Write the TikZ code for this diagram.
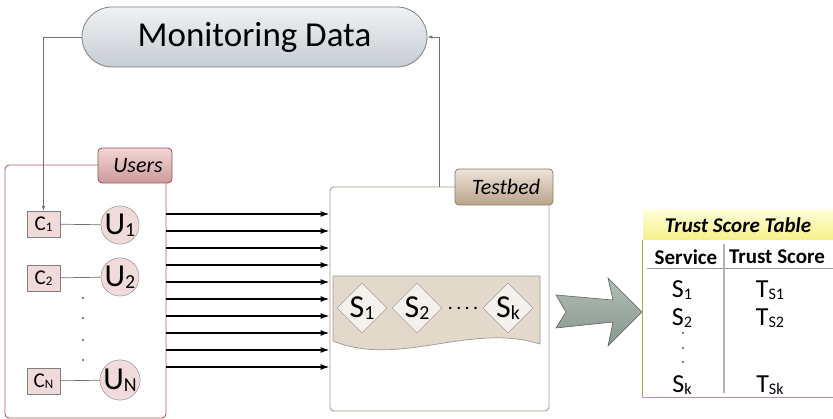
\documentclass[tikz,border=0pt]{standalone}
\usepackage{fontspec}
\setmainfont{Carlito}
\usepackage{graphicx}
\usetikzlibrary{arrows.meta,shapes.geometric}
\newcommand\lowsub[1]{\raisebox{-0.15ex}{\scalebox{0.62}{#1}}}
\newcommand\fsz[1]{\fontsize{#1}{#1}\selectfont}
\definecolor{userred}{HTML}{B06060}
\definecolor{tanline}{HTML}{A89880}
\definecolor{olive}{HTML}{B0AD40}
\definecolor{conn}{HTML}{707070}
\definecolor{cfill}{HTML}{F0DADA}
\definecolor{dfill}{HTML}{F4F0EC}
\definecolor{montop}{HTML}{F0F2F4}
\definecolor{monbot}{HTML}{C6CCD3}
\definecolor{utabtop}{HTML}{F2D6D6}
\definecolor{utabbot}{HTML}{CE9A9A}
\definecolor{ttabtop}{HTML}{EEE4D8}
\definecolor{ttabbot}{HTML}{B9A28A}
\definecolor{banner}{HTML}{E3D9CB}
\definecolor{arrtop}{HTML}{B2BEB6}
\definecolor{arrbot}{HTML}{86968C}
\definecolor{yeltop}{HTML}{FFFFD8}
\definecolor{yelbot}{HTML}{F6F088}
\tikzset{
  x=1pt,y=-1pt,
  tabbox/.style={draw, rounded corners=4pt, line width=0.8pt, font=\fsz{22}\itshape, inner sep=0pt},
  cbox/.style={draw=gray, fill=cfill, minimum width=33pt, minimum height=26pt, inner sep=0pt, font=\fsz{21}},
  ucirc/.style={circle, draw=gray, fill=cfill, minimum size=38pt, inner sep=0pt, font=\fsz{32}},
  sdiam/.style={diamond, draw=gray!90, fill=dfill, minimum width=50pt, minimum height=50pt, inner sep=0pt, font=\fsz{32}},
  thin conn/.style={draw=conn, line width=0.6pt, -{Latex[length=5pt,width=3.5pt]}},
  feed/.style={draw=black, line width=1.4pt, -{Latex[length=9pt,width=6pt]}},
  cell/.style={font=\fsz{26}, inner sep=0pt},
  headcell/.style={font=\fsz{21}\bfseries, inner sep=0pt},
}
\begin{document}
\begin{tikzpicture}
\useasboundingbox (0,0) rectangle (833,419);
% Monitoring data
\node[draw=gray, line width=0.8pt, rounded corners=30pt, top color=montop, bottom color=monbot,
  minimum width=345pt, minimum height=60pt, font=\fsz{35}] (mon) at (254.5,37) {Monitoring Data};
% Users
\node[draw=userred, rounded corners=4pt, line width=0.9pt, minimum width=161pt, minimum height=253pt] (users) at (85.5,291.5) {};
\node[tabbox, draw=userred!85!black, top color=utabtop, bottom color=utabbot,
  minimum width=74pt, minimum height=35pt] (utab) at (135,165.5) {\hspace{6pt}Users};
% Testbed
\node[draw=tanline, rounded corners=4pt, line width=0.9pt, minimum width=219pt, minimum height=224pt] (tb) at (439.5,299) {};
\node[tabbox, draw=tanline!80!black, top color=ttabtop, bottom color=ttabbot,
  minimum width=98pt, minimum height=36pt] (ttab) at (504,187) {\hspace{4pt}Testbed};
% clients and users
\node[cbox] (c1) at (43.5,224) {C\lowsub{1}};
\node[cbox] (c2) at (43.5,278) {C\lowsub{2}};
\node[cbox] (cn) at (43.5,381) {C\lowsub{N}};
\node[ucirc] (u1) at (120,225) {U\lowsub{1}};
\node[ucirc] (u2) at (120,277) {U\lowsub{2}};
\node[ucirc] (un) at (120,380) {U\lowsub{N}};
\draw[conn, line width=0.7pt] (c1) -- (u1);
\draw[conn, line width=0.7pt] (c2) -- (u2);
\draw[conn, line width=0.7pt] (cn) -- (un);
\foreach \y in {298,318,340,360} \fill (83,\y) circle (0.9pt);
% feedback connectors
\draw[thin conn] (mon.west) -| (c1.north);
\draw[thin conn] (tb.north) |- (mon.east);
% request arrows
\foreach \y in {214,231,248,265,282,299,316,333,350,367}
  \draw[feed] (users.east |- 0,\y) -- (tb.west |- 0,\y);
% services banner
\draw[draw=gray!80, fill=banner, line width=0.7pt]
  (333,276) -- (540,276) -- (540,344) .. controls (470,322) and (400,368) .. (333,341) -- cycle;
\node[sdiam] (s1) at (362,308) {S\lowsub{1}};
\node[sdiam] (s2) at (417,308) {S\lowsub{2}};
\node[sdiam] (sk) at (508,308) {S\lowsub{k}};
\node[font=\fsz{20}, inner sep=0pt] (sdots) at (463,308) {.\,.\,.\,.};
% big arrow
\shade[top color=arrtop, bottom color=arrbot, draw=gray!75!black, line width=0.6pt]
  (556,295) -- (613,300) -- (608,278) -- (642,312) -- (608,346) -- (613,322) -- (556,328) -- (566,312) -- cycle;
% trust score table
\node[top color=yeltop, bottom color=yelbot, minimum width=190pt, minimum height=30pt,
  inner sep=0pt, font=\fsz{21}\bfseries\itshape] (thead) at (738,225) {Trust Score Table};
\node[minimum width=190pt, minimum height=157pt, inner sep=0pt] (tbl) at (738,318.5) {};
\draw[olive, line width=1pt] (tbl.north west) -- (tbl.south west) -- (tbl.south east);
\node[headcell] (hserv) at (686,257) {Service};
\node[headcell] (htrust) at (777,257) {Trust Score};
\coordinate (hl1) at (647,269);
\coordinate (hl2) at (833,269);
\draw[gray!80, line width=1pt] (hl1) -- (hl2);
\coordinate (vl1) at (724,244);
\coordinate (vl2) at (724,393);
\draw[gray!60, line width=1.3pt] (vl1) -- (vl2);
\node[cell] (r1a) at (682,290) {S\lowsub{1}};
\node[cell] (r1b) at (770,290) {T\lowsub{S1}};
\node[cell] (r2a) at (682,318) {S\lowsub{2}};
\node[cell] (r2b) at (770,318) {T\lowsub{S2}};
\foreach \y in {333,348,362} \fill (683,\y) circle (0.8pt);
\node[cell] (rka) at (682,385) {S\lowsub{k}};
\node[cell] (rkb) at (770,385) {T\lowsub{Sk}};
\end{tikzpicture}
\end{document}
